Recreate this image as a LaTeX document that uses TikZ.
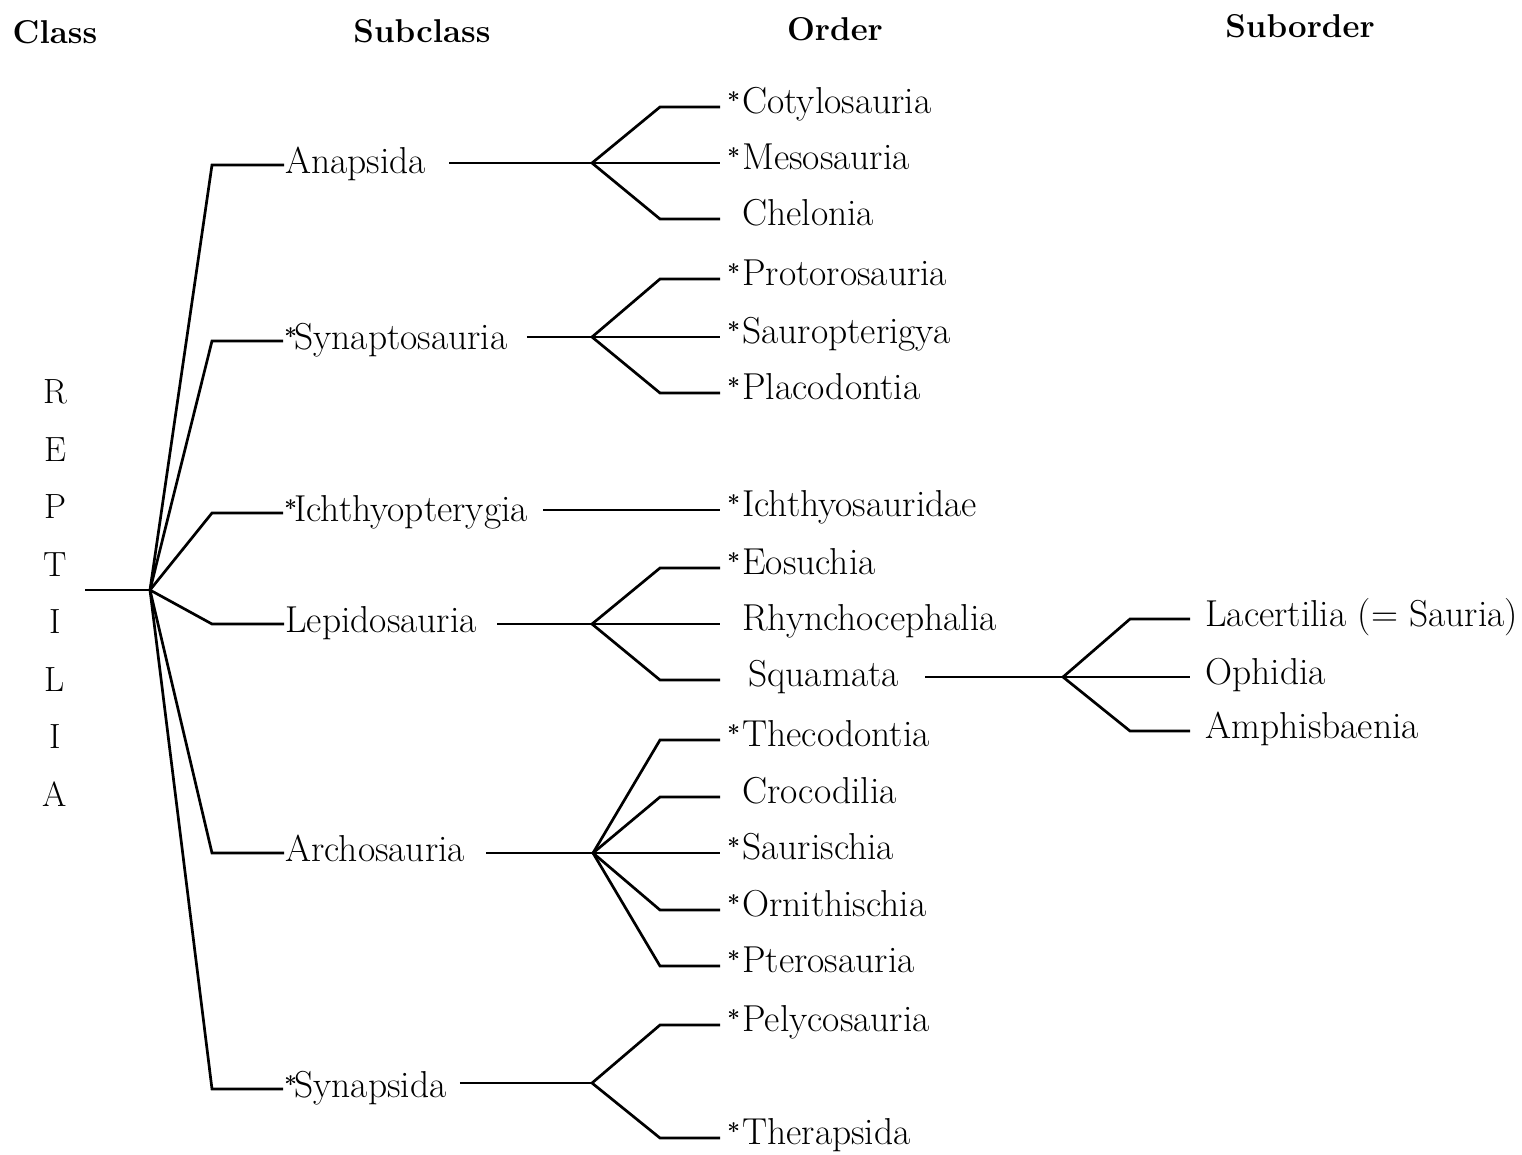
\documentclass[tikz,border=0pt]{standalone}
\usepackage{fontspec}
\newcommand\xt{\makebox[21pt][l]{\hspace{6pt}\raisebox{5pt}{\scalebox{0.6}{\bfseries*}}}}
\newcommand\nx{\hspace*{21pt}}
\newcommand\xs{\makebox[10pt][l]{\raisebox{5pt}{\scalebox{0.6}{\bfseries*}}}}
\begin{document}
\begin{tikzpicture}[x=1pt,y=-1pt,line width=2.7pt,
  lbl/.style={anchor=base west,inner sep=0pt,font=\fontsize{37.5}{42}\selectfont},
  letter/.style={anchor=base,inner sep=0pt,font=\fontsize{35}{40}\selectfont},
  hdr/.style={anchor=base,inner sep=0pt,font=\bfseries\fontsize{33}{38}\selectfont}]
\useasboundingbox (0,0) rectangle (1522,1154);
% headers
\node[hdr] (hClass) at (55,43) {Class};
\node[hdr] (hSub) at (422,42) {Subclass};
\node[hdr] (hOrd) at (835,40) {Order};
\node[hdr] (hSubo) at (1300,37) {Suborder};
% REPTILIA
\node[letter] (l1) at (55,403) {R};
\node[letter] (l2) at (55,461) {E};
\node[letter] (l3) at (55,518) {P};
\node[letter] (l4) at (55,576) {T};
\node[letter] (l5) at (55,633) {I};
\node[letter] (l6) at (55,691) {L};
\node[letter] (l7) at (55,748) {I};
\node[letter] (l8) at (55,806) {A};
\coordinate (root) at (85,590);
\coordinate (hub) at (150,590);
\draw (root) -- (hub);
% subclasses
\node[lbl] (anap) at (284,173) {Anapsida};
\node[lbl] (synt) at (283,349) {\xs Synaptosauria};
\node[lbl] (ichp) at (283,521) {\xs Ichthyopterygia};
\node[lbl] (lepi) at (284,632) {Lepidosauria};
\node[lbl] (arch) at (284,861) {Archosauria};
\node[lbl] (syns) at (283,1097) {\xs Synapsida};
\coordinate (eAnap) at (212,165);
\coordinate (eSynt) at (212,341);
\coordinate (eIchp) at (212,513);
\coordinate (eLepi) at (212,624);
\coordinate (eArch) at (212,853);
\coordinate (eSyns) at (212,1089);
\foreach \e/\n in {eAnap/anap,eSynt/synt,eIchp/ichp,eLepi/lepi,eArch/arch,eSyns/syns}
  \draw (hub) -- (\e) -- (\e -| \n.west);
% hubs
\coordinate (hA) at (592,163);
\coordinate (hS) at (592,337);
\coordinate (hL) at (592,624);
\coordinate (hR) at (593,853);
\coordinate (hY) at (592,1083);
\coordinate (hQ) at (1063,677);
% orders
\node[lbl] (coty) at (720,113) {\xt Cotylosauria};
\node[lbl] (meso) at (720,169) {\xt Mesosauria};
\node[lbl] (chel) at (720,225) {\nx Chelonia};
\node[lbl] (prot) at (720,285) {\xt Protorosauria};
\node[lbl] (saur) at (720,343) {\xt Sauropterigya};
\node[lbl] (plac) at (720,399) {\xt Placodontia};
\node[lbl] (ichs) at (720,516) {\xt Ichthyosauridae};
\node[lbl] (eosu) at (720,574) {\xt Eosuchia};
\node[lbl] (rhyn) at (720,630) {\nx Rhynchocephalia};
\node[lbl] (squa) at (720,686) {\hspace*{27pt}Squamata};
\node[lbl] (thec) at (720,746) {\xt Thecodontia};
\node[lbl] (croc) at (720,803) {\nx Crocodilia};
\node[lbl] (sris) at (720,859) {\xt Saurischia};
\node[lbl] (orni) at (720,916) {\xt Ornithischia};
\node[lbl] (pter) at (720,972) {\xt Pterosauria};
\node[lbl] (pely) at (720,1031) {\xt Pelycosauria};
\node[lbl] (ther) at (720,1144) {\xt Therapsida};
% suborders
\node[lbl] (lace) at (1190,626) {\hspace*{14pt}Lacertilia (= Sauria)};
\node[lbl] (ophi) at (1190,684) {\hspace*{14pt}Ophidia};
\node[lbl] (amph) at (1190,738) {\hspace*{14pt}Amphisbaenia};
% label-to-hub lines
\path (anap.east |- hA) ++(22,0) coordinate (anapE);
\path (synt.east |- hS) ++(18,0) coordinate (syntE);
\path (ichp.east |- 0,510) ++(14,0) coordinate (ichpE);
\path (lepi.east |- hL) ++(19,0) coordinate (lepiE);
\path (arch.east |- hR) ++(20,0) coordinate (archE);
\path (syns.east |- hY) ++(12,0) coordinate (synsE);
\path (squa.east |- hQ) ++(25,0) coordinate (squaE);
\draw (anapE) -- (hA);
\draw (syntE) -- (hS);
\draw (ichpE) -- (ichpE -| ichs.west);
\draw (lepiE) -- (hL);
\draw (archE) -- (hR);
\draw (synsE) -- (hY);
\draw (squaE) -- (hQ);
% order elbows
\coordinate (eCoty) at (660,107);
\coordinate (eChel) at (660,219);
\coordinate (eProt) at (660,279);
\coordinate (ePlac) at (660,393);
\coordinate (eEosu) at (660,568);
\coordinate (eSqua) at (660,680);
\coordinate (eThec) at (660,740);
\coordinate (eCroc) at (660,797);
\coordinate (eOrni) at (660,910);
\coordinate (ePter) at (660,966);
\coordinate (ePely) at (660,1025);
\coordinate (eTher) at (660,1138);
\coordinate (eLace) at (1130,619);
\coordinate (eAmph) at (1130,731);
\foreach \h/\e/\n in {hA/eCoty/coty,hA/eChel/chel,hS/eProt/prot,hS/ePlac/plac,
  hL/eEosu/eosu,hL/eSqua/squa,hR/eThec/thec,hR/eCroc/croc,hR/eOrni/orni,
  hR/ePter/pter,hY/ePely/pely,hY/eTher/ther,hQ/eLace/lace,hQ/eAmph/amph}
  \draw (\h) -- (\e) -- (\e -| \n.west);
\foreach \h/\n in {hA/meso,hS/saur,hL/rhyn,hR/sris,hQ/ophi}
  \draw (\h) -- (\h -| \n.west);
\end{tikzpicture}
\end{document}
